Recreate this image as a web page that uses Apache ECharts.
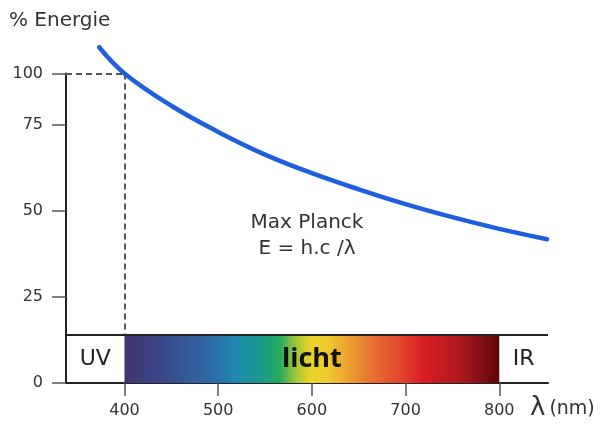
<!DOCTYPE html>
<html>
<head>
<meta charset="utf-8">
<script src="https://cdn.jsdelivr.net/npm/echarts@6/dist/echarts.min.js"></script>
<style>
html,body{margin:0;padding:0;background:#fff;}
#chart{width:600px;height:427px;}
</style>
</head>
<body>
<div id="chart"></div>
<script>
// ---- data ----
const wavelengths = [373, 400, 450, 500, 550, 600, 650, 700, 750, 800, 851];
const energy      = [97.6, 90.0, 80.6, 73.0, 66.4, 61.0, 56.3, 52.0, 48.2, 44.8, 41.8];
const xTickValues = [400, 500, 600, 700, 800];
const yTickValues = [0, 25, 50, 75, 90];
const yTickLabels = ['0', '25', '50', '75', '100'];
const lightRange  = [400, 800];
const bandLabels  = ['UV', 'licht', 'IR'];
const refLevel    = 90;   // level labelled "100"

// ---- layout / style ----
const xMin = 337.6, xMax = 852;
const bandTop = 14;
const FONT = 'DejaVu Sans';

const chart = echarts.init(document.getElementById('chart'), null, {renderer: 'canvas'});

const spectrum = new echarts.graphic.LinearGradient(0, 0, 1, 0, [
  {offset: 0.000, color: '#41336e'},
  {offset: 0.095, color: '#3b4688'},
  {offset: 0.228, color: '#2f6aa4'},
  {offset: 0.295, color: '#1f86b2'},
  {offset: 0.362, color: '#1a9a8c'},
  {offset: 0.415, color: '#26aa5c'},
  {offset: 0.455, color: '#9cc43a'},
  {offset: 0.495, color: '#e8d42a'},
  {offset: 0.535, color: '#f0cc30'},
  {offset: 0.588, color: '#eca830'},
  {offset: 0.655, color: '#e87432'},
  {offset: 0.735, color: '#e2462e'},
  {offset: 0.802, color: '#d81c22'},
  {offset: 0.882, color: '#b41a1e'},
  {offset: 0.948, color: '#86101a'},
  {offset: 1.000, color: '#5c0606'}
]);

const curve = wavelengths.map((w, i) => [w, energy[i]]);

const option = {
  backgroundColor: '#ffffff',
  animation: false,
  grid: {left: 66, right: 52, top: 73.4, bottom: 44, outerBoundsMode: 'none'},
  xAxis: {
    type: 'value', min: xMin, max: xMax,
    axisLine: {show: true, lineStyle: {color: '#222', width: 2}},
    axisTick: {show: true, customValues: xTickValues, length: 13, lineStyle: {color: '#555', width: 1.5}},
    axisLabel: {customValues: xTickValues, margin: 20, fontFamily: FONT, fontSize: 16, color: '#333'},
    splitLine: {show: false}
  },
  yAxis: {
    type: 'value', min: 0, max: refLevel,
    axisLine: {show: true, lineStyle: {color: '#222', width: 2}},
    axisTick: {show: true, customValues: yTickValues, length: 14, lineStyle: {color: '#555', width: 1.5}},
    axisLabel: {
      customValues: yTickValues, margin: 23, fontFamily: FONT, fontSize: 16, color: '#333',
      formatter: v => yTickLabels[yTickValues.indexOf(v)]
    },
    splitLine: {show: false}
  },
  series: [
    {
      type: 'line',
      name: 'band',
      data: [],
      silent: true,
      markArea: {
        silent: true,
        data: [
          [{coord: [xMin, 0], itemStyle: {color: 'rgba(0,0,0,0)'},
            label: {show: true, position: 'inside', formatter: bandLabels[0], fontFamily: FONT, fontSize: 22, color: '#222'}},
           {coord: [lightRange[0], bandTop]}],
          [{coord: [lightRange[0], 0], itemStyle: {color: spectrum},
            label: {show: true, position: 'inside', formatter: bandLabels[1], fontFamily: 'Open Sans', fontWeight: 'bold', fontSize: 27, color: '#111'}},
           {coord: [lightRange[1], bandTop]}],
          [{coord: [lightRange[1], 0], itemStyle: {color: 'rgba(0,0,0,0)'},
            label: {show: true, position: 'inside', formatter: bandLabels[2], fontFamily: FONT, fontSize: 22, color: '#222'}},
           {coord: [xMax, bandTop]}]
        ]
      },
      markLine: {
        silent: true,
        symbol: ['none', 'none'],
        label: {show: false},
        data: [
          [{coord: [xMin, bandTop], lineStyle: {color: '#222', width: 2, type: 'solid'}},
           {coord: [xMax, bandTop]}],
          [{coord: [xMin, refLevel], lineStyle: {color: '#555', width: 2, type: [6, 4]}},
           {coord: [lightRange[0], refLevel]}],
          [{coord: [lightRange[0], refLevel], lineStyle: {color: '#555', width: 2, type: [6, 4]}},
           {coord: [lightRange[0], bandTop]}]
        ]
      }
    },
    {
      type: 'line',
      name: 'Energie',
      data: curve,
      smooth: 0.4,
      showSymbol: false,
      symbol: 'none',
      clip: false,
      z: 5,
      lineStyle: {color: '#1f5fdd', width: 4.5, cap: 'round'}
    }
  ],
  graphic: [
    {type: 'text', left: 9, top: 11,
     style: {text: '% Energie', fontFamily: FONT, fontSize: 20, fill: '#333'}},
    {type: 'text', x: 307, y: 210,
     style: {text: 'Max Planck\nE = h.c /λ', fontFamily: FONT, fontSize: 20, lineHeight: 26, fill: '#333', align: 'center'}},
    {type: 'text', x: 530, y: 395,
     style: {
       text: '{l|λ}{n|(nm)}',
       rich: {
         l: {fontFamily: FONT, fontSize: 26, fill: '#333'},
         n: {fontFamily: FONT, fontSize: 19, fill: '#333', padding: [3, 0, 0, 4]}
       }
     }}
  ]
};

chart.setOption(option);
</script>
</body>
</html>
